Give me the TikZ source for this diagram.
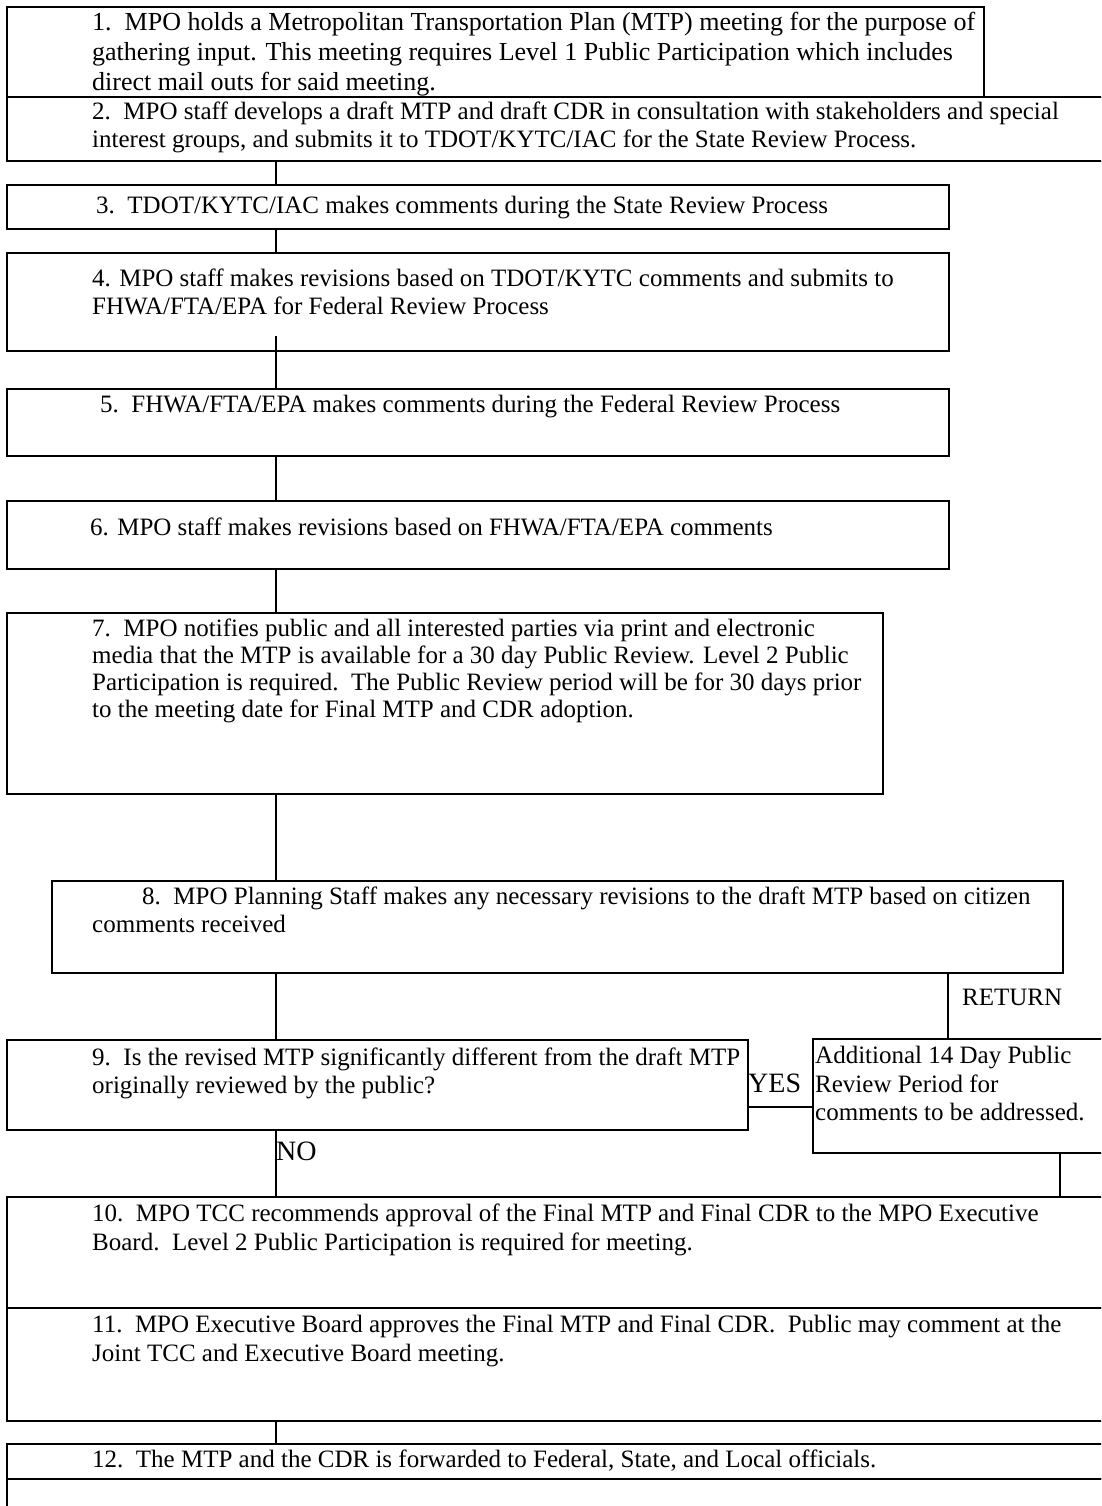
\documentclass[tikz,border=0pt]{standalone}
\usepackage{fontspec}
\setmainfont{Liberation Serif}
\usetikzlibrary{calc}
\begin{document}
\begin{tikzpicture}[x=1pt,y=-1pt,
  box/.style={draw=black, line width=1.6pt, inner sep=0pt, anchor=north west, fill=none},
  txt/.style={anchor=base west, inner sep=0pt, font=\fontsize{25}{29}\selectfont},
  txtl/.style={anchor=base west, inner sep=0pt, font=\fontsize{26}{30}\selectfont},
  big/.style={anchor=base west, inner sep=0pt, font=\fontsize{28}{32}\selectfont},
  conn/.style={draw=black, line width=1.6pt}]
\useasboundingbox (0,0) rectangle (1101,1506);
\clip (0,0) rectangle (1101,1506);
\fill[white] (0,0) rectangle (1101,1506);
% boxes
\node[box, minimum width=977pt, minimum height=90pt] (b1) at (6,6) {};
\node[box, minimum width=1110pt, minimum height=64pt] (b2) at (6,96) {};
\node[box, minimum width=942pt, minimum height=44pt] (b3) at (6,184) {};
\node[box, minimum width=942pt, minimum height=98pt] (b4) at (6,252) {};
\node[box, minimum width=942pt, minimum height=67pt] (b5) at (6,388) {};
\node[box, minimum width=942pt, minimum height=68pt] (b6) at (6,500) {};
\node[box, minimum width=876pt, minimum height=181pt] (b7) at (6,612) {};
\node[box, minimum width=1011pt, minimum height=92pt] (b8) at (51,880) {};
\node[box, minimum width=741pt, minimum height=90pt] (b9) at (6,1039) {};
\node[box, minimum width=300pt, minimum height=114pt] (b14) at (812,1038) {};
\node[box, minimum width=1110pt, minimum height=111pt] (b10) at (6,1196) {};
\node[box, minimum width=1110pt, minimum height=113pt] (b11) at (6,1307) {};
\node[box, minimum width=1110pt, minimum height=35pt] (b12) at (6,1443) {};
\node[box, minimum width=1110pt, minimum height=60pt] (b13) at (6,1478) {};
% texts
\node[txtl] (t1a) at (92,31) {1.\ \ MPO holds a Metropolitan Transportation Plan (MTP) meeting for the purpose of};
\node[txtl] (t1b) at (92,61) {gathering input. This meeting requires Level 1 Public Participation which includes};
\node[txtl] (t1c) at (92,91) {direct mail outs for said meeting.};
\node[txt] (t2a) at (92,120) {2.\ \ MPO staff develops a draft MTP and draft CDR in consultation with stakeholders and special};
\node[txt] (t2b) at (92,148) {interest groups, and submits it to TDOT/KYTC/IAC for the State Review Process.};
\node[txt] (t3a) at (96,214) {3.\ \ TDOT/KYTC/IAC makes comments during the State Review Process};
\node[txt] (t4a) at (92,286) {4. MPO staff makes revisions based on TDOT/KYTC comments and submits to};
\node[txt] (t4b) at (92,314) {FHWA/FTA/EPA for Federal Review Process};
\node[txt] (t5a) at (100,412) {5.\ \ FHWA/FTA/EPA makes comments during the Federal Review Process};
\node[txt] (t6a) at (90,535) {6. MPO staff makes revisions based on FHWA/FTA/EPA comments};
\node[txt] (t7a) at (92,636) {7.\ \ MPO notifies public and all interested parties via print and electronic};
\node[txt] (t7b) at (92,663) {media that the MTP is available for a 30 day Public Review. Level 2 Public};
\node[txt] (t7c) at (92,690) {Participation is required.\ \ The Public Review period will be for 30 days prior};
\node[txt] (t7d) at (92,717) {to the meeting date for Final MTP and CDR adoption.};
\node[txt] (t8a) at (142,904) {8.\ \ MPO Planning Staff makes any necessary revisions to the draft MTP based on citizen};
\node[txt] (t8b) at (92,932) {comments received};
\node[txt] (t9a) at (92,1065) {9.\ \ Is the revised MTP significantly different from the draft MTP};
\node[txt] (t9b) at (92,1093) {originally reviewed by the public?};
\node[txt] (t14a) at (815,1063) {Additional 14 Day Public};
\node[txt] (t14b) at (815,1092) {Review Period for};
\node[txt] (t14c) at (815,1120) {comments to be addressed.};
\node[txt] (t10a) at (92,1221) {10.\ \ MPO TCC recommends approval of the Final MTP and Final CDR to the MPO Executive};
\node[txt] (t10b) at (92,1250) {Board.\ \ Level 2 Public Participation is required for meeting.};
\node[txt] (t11a) at (92,1332) {11.\ \ MPO Executive Board approves the Final MTP and Final CDR.\ \ Public may comment at the};
\node[txt] (t11b) at (92,1361) {Joint TCC and Executive Board meeting.};
\node[txt] (t12a) at (92,1467) {12.\ \ The MTP and the CDR is forwarded to Federal, State, and Local officials.};
% labels
\node[big] (yes) at (748,1092) {YES};
\node[big] (no) at (276,1160) {NO};
\node[txt] (ret) at (962,1005) {RETURN};
% connectors
\coordinate (cx) at (276,0);
\coordinate (rx) at (948,0);
\coordinate (ex) at (1060,0);
\coordinate (yy) at (0,1107);
\draw[conn] (b2.south -| cx) -- (b3.north -| cx);
\draw[conn] (b3.south -| cx) -- (b4.north -| cx);
\draw[conn] ($(b4.south -| cx)+(0,-16)$) -- (b5.north -| cx);
\draw[conn] (b5.south -| cx) -- (b6.north -| cx);
\draw[conn] (b6.south -| cx) -- (b7.north -| cx);
\draw[conn] (b7.south -| cx) -- (b8.north -| cx);
\draw[conn] (b8.south -| cx) -- (b9.north -| cx);
\draw[conn] (b8.south -| rx) -- (b14.north -| rx);
\draw[conn] (b9.east |- yy) -- (b14.west |- yy);
\draw[conn] (b9.south -| cx) -- (b10.north -| cx);
\draw[conn] (b14.south -| ex) -- (b10.north -| ex);
\draw[conn] (b11.south -| cx) -- (b12.north -| cx);
\end{tikzpicture}
\end{document}
